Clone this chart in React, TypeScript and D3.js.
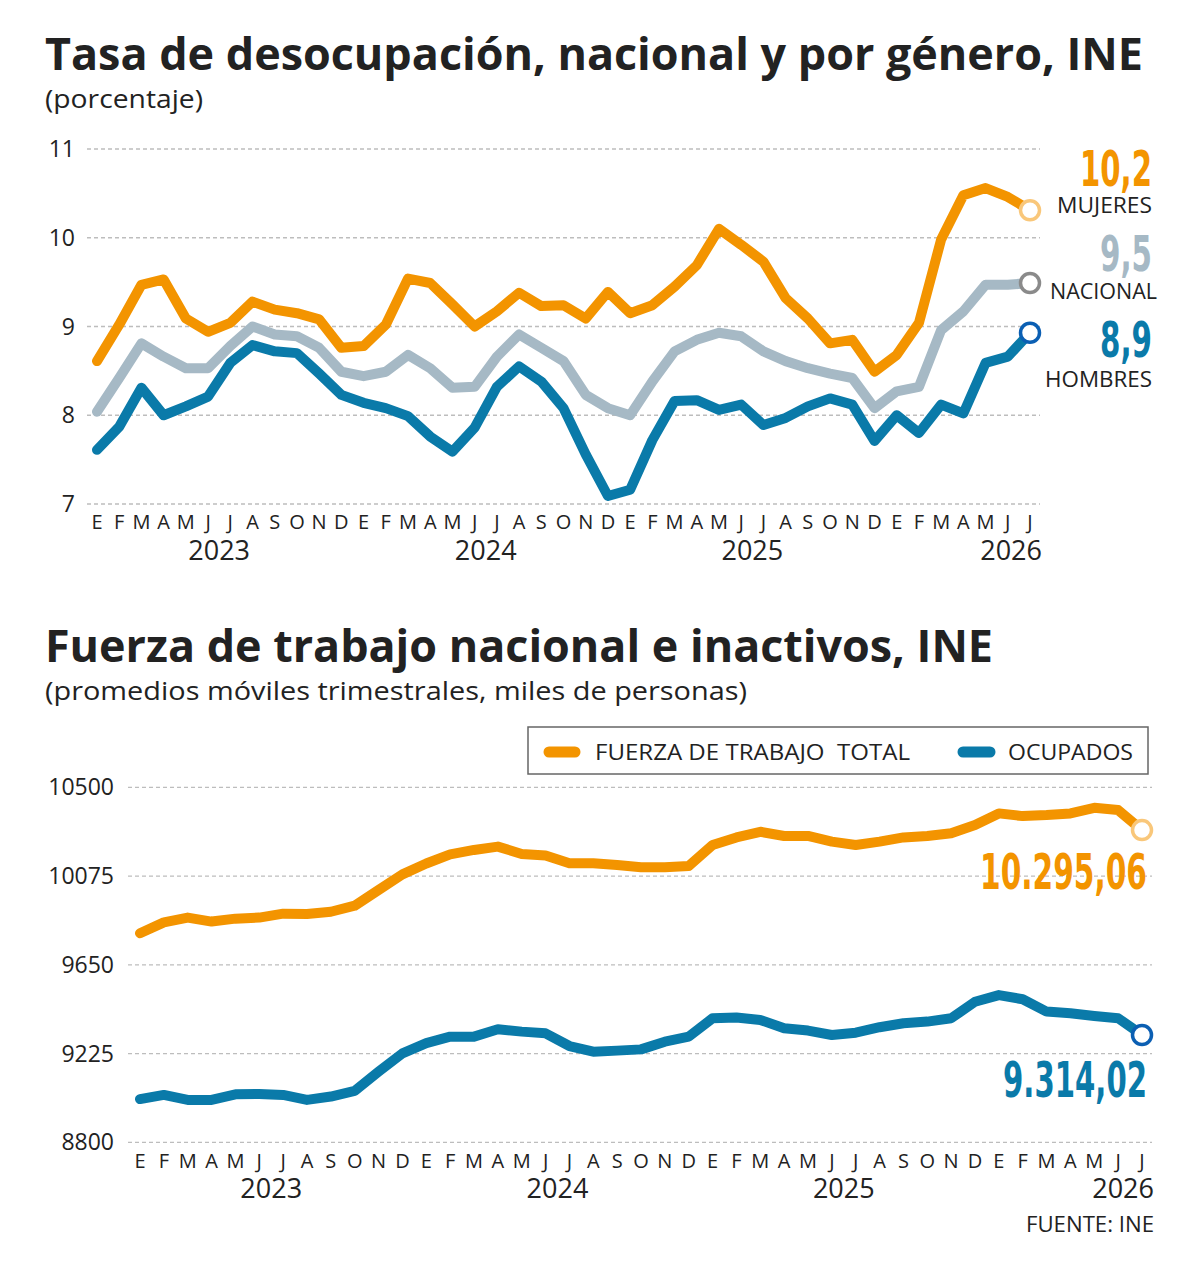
import * as d3 from 'd3';
import { useEffect } from 'react';

// month initials, Jan 2023 .. Jul 2026
const MONTHS = ['E', 'F', 'M', 'A', 'M', 'J', 'J', 'A', 'S', 'O', 'N', 'D'];
const monthLabels = d3.range(43).map(i => MONTHS[i % 12]);
const years = ['2023', '2024', '2025', '2026'];

// tasa de desocupación (%)
const mujeres = [8.61, 9.02, 9.47, 9.53, 9.09, 8.94, 9.04, 9.28, 9.19, 9.15, 9.08, 8.76,
  8.78, 9.02, 9.54, 9.49, 9.25, 9.0, 9.17, 9.38, 9.23, 9.24, 9.09, 9.39,
  9.15, 9.24, 9.45, 9.69, 10.1, 9.92, 9.73, 9.32, 9.09, 8.81, 8.85, 8.49,
  8.68, 9.04, 9.98, 10.48, 10.56, 10.46, 10.31];
const nacional = [8.04, 8.42, 8.81, 8.66, 8.53, 8.53, 8.78, 9.0, 8.91, 8.89, 8.76, 8.49,
  8.44, 8.49, 8.68, 8.53, 8.31, 8.32, 8.66, 8.91, 8.76, 8.61, 8.23, 8.08,
  8.0, 8.38, 8.72, 8.85, 8.93, 8.89, 8.72, 8.61, 8.53, 8.47, 8.42, 8.08,
  8.27, 8.32, 8.96, 9.17, 9.47, 9.47, 9.49];
const hombres = [7.61, 7.87, 8.31, 8.0, 8.1, 8.21, 8.59, 8.79, 8.72, 8.7, 8.47, 8.23,
  8.14, 8.08, 7.99, 7.76, 7.59, 7.86, 8.32, 8.55, 8.38, 8.08, 7.56, 7.09,
  7.16, 7.72, 8.16, 8.17, 8.06, 8.12, 7.89, 7.97, 8.1, 8.19, 8.12, 7.71,
  8.0, 7.8, 8.12, 8.02, 8.59, 8.66, 8.93];
const topTicks = [7, 8, 9, 10, 11];

// fuerza de trabajo (miles de personas)
const fuerza = [9801, 9853, 9876, 9857, 9871, 9876, 9895, 9893, 9904, 9933, 10008, 10083,
  10135, 10179, 10200, 10216, 10181, 10173, 10136, 10136, 10128, 10117, 10117, 10123,
  10224, 10260, 10287, 10267, 10267, 10240, 10224, 10240, 10260, 10267, 10280, 10319,
  10375, 10362, 10367, 10375, 10402, 10391, 10295.06];
const ocupados = [9007, 9027, 9003, 9003, 9030, 9031, 9027, 9003, 9019, 9046, 9138, 9226,
  9275, 9306, 9306, 9341, 9330, 9322, 9261, 9234, 9239, 9245, 9282, 9306,
  9394, 9398, 9386, 9346, 9335, 9314, 9325, 9351, 9370, 9378, 9394, 9473,
  9505, 9485, 9426, 9418, 9405, 9394, 9314.02];
const bottomTicks = [8800, 9225, 9650, 10075, 10500];

const ORANGE = '#f39400';
const BLUE = '#0a7aa9';
const GREY = '#a6b9c5';
const INK = '#222';
const FONT = "'Open Sans', sans-serif";
const NUMFONT = "'DejaVu Sans Condensed', 'DejaVu Sans', sans-serif";

const fmt = d3.format(',');

function Panel({ x, y, ticks, gridX, tickX, labelY, yearY, series }: any) {
  const line = d3.line<number>().x((_, i) => x(i)).y(d => y(d));
  const last = monthLabels.length - 1;
  return (
    <g>
      {ticks.map((t: number) => (
        <g key={t}>
          <line x1={gridX[0]} x2={gridX[1]} y1={y(t)} y2={y(t)} stroke="#bdbdbd" strokeWidth={1.3} strokeDasharray="4 3" />
          <text x={tickX} y={y(t) + 8} textAnchor="end" fontSize={23} fill={INK} fontFamily={FONT}>{String(t)}</text>
        </g>
      ))}
      {monthLabels.map((m, i) => (
        <text key={i} x={x(i)} y={labelY} textAnchor="middle" fontSize={20} fill={INK} fontFamily={FONT}>{m}</text>
      ))}
      {years.slice(0, 3).map((yr, k) => (
        <text key={yr} x={x(5.5 + 12 * k)} y={yearY} textAnchor="middle" fontSize={27} fill={INK} fontFamily={FONT}>{yr}</text>
      ))}
      <text x={x(last) + 12} y={yearY} textAnchor="end" fontSize={27} fill={INK} fontFamily={FONT}>{years[3]}</text>
      {series.map((s: any) => (
        <path key={s.name} d={line(s.values) || ''} fill="none" stroke={s.color} strokeWidth={10} strokeLinejoin="round" strokeLinecap="round" />
      ))}
      {series.map((s: any) => (
        <circle key={s.name + 'c'} cx={x(last)} cy={y(s.values[last])} r={9.5} fill="#fff" stroke={s.marker} strokeWidth={3.5} />
      ))}
    </g>
  );
}

export default function App() {
  useEffect(() => {
    document.body.style.margin = '0';
  }, []);

  const last = monthLabels.length - 1;
  const xTop = d3.scaleLinear().domain([0, last]).range([97, 1030]);
  const yTop = d3.scaleLinear().domain([7, 11]).range([504, 149]);
  const xBot = d3.scaleLinear().domain([0, last]).range([140, 1142]);
  const yBot = d3.scaleLinear().domain([8800, 10500]).range([1142.3, 787.3]);

  const topSeries = [
    { name: 'nacional', values: nacional, color: GREY, marker: '#8a8a8a' },
    { name: 'hombres', values: hombres, color: BLUE, marker: '#0b5fb3' },
    { name: 'mujeres', values: mujeres, color: ORANGE, marker: '#f9c77a' },
  ];
  const botSeries = [
    { name: 'fuerza', values: fuerza, color: ORANGE, marker: '#f9c77a' },
    { name: 'ocupados', values: ocupados, color: BLUE, marker: '#0b5fb3' },
  ];

  return (
    <svg width={1200} height={1267} style={{ display: 'block', background: '#fff' }}>
      <text x={45} y={70} fontSize={44} fontWeight={700} fill={INK} fontFamily={FONT} textLength={1098} lengthAdjust="spacingAndGlyphs">
        Tasa de desocupación, nacional y por género, INE
      </text>
      <text x={45} y={108} fontSize={26} fill={INK} fontFamily={FONT} textLength={158} lengthAdjust="spacingAndGlyphs">(porcentaje)</text>

      <Panel x={xTop} y={yTop} ticks={topTicks} gridX={[87, 1040]} tickX={75} labelY={529} yearY={560} series={topSeries} />

      <text x={1152} y={186} textAnchor="end" fontSize={50} fontWeight={700} fill={ORANGE} fontFamily={NUMFONT} textLength={72} lengthAdjust="spacingAndGlyphs">10,2</text>
      <text x={1152} y={213} textAnchor="end" fontSize={21} fill={INK} fontFamily={FONT} textLength={95} lengthAdjust="spacingAndGlyphs">MUJERES</text>
      <text x={1152} y={271} textAnchor="end" fontSize={50} fontWeight={700} fill={GREY} fontFamily={NUMFONT} textLength={52} lengthAdjust="spacingAndGlyphs">9,5</text>
      <text x={1157} y={299} textAnchor="end" fontSize={21} fill={INK} fontFamily={FONT} textLength={107} lengthAdjust="spacingAndGlyphs">NACIONAL</text>
      <text x={1152} y={357} textAnchor="end" fontSize={50} fontWeight={700} fill={BLUE} fontFamily={NUMFONT} textLength={52} lengthAdjust="spacingAndGlyphs">8,9</text>
      <text x={1152} y={387} textAnchor="end" fontSize={21} fill={INK} fontFamily={FONT} textLength={107} lengthAdjust="spacingAndGlyphs">HOMBRES</text>

      <text x={45} y={662} fontSize={44} fontWeight={700} fill={INK} fontFamily={FONT} textLength={948} lengthAdjust="spacingAndGlyphs">
        Fuerza de trabajo nacional e inactivos, INE
      </text>
      <text x={45} y={700} fontSize={26} fill={INK} fontFamily={FONT} textLength={702} lengthAdjust="spacingAndGlyphs">
        (promedios móviles trimestrales, miles de personas)
      </text>

      <rect x={528} y={727} width={620} height={47} fill="#fff" stroke="#666" strokeWidth={1.5} />
      <line x1={549} x2={575} y1={752} y2={752} stroke={ORANGE} strokeWidth={11} strokeLinecap="round" />
      <text x={595} y={760} fontSize={22} fill={INK} fontFamily={FONT} textLength={315} lengthAdjust="spacingAndGlyphs" style={{ whiteSpace: 'pre' }}>FUERZA DE TRABAJO  TOTAL</text>
      <line x1={963} x2={990} y1={752} y2={752} stroke={BLUE} strokeWidth={11} strokeLinecap="round" />
      <text x={1008} y={760} fontSize={22} fill={INK} fontFamily={FONT} textLength={125} lengthAdjust="spacingAndGlyphs">OCUPADOS</text>

      <Panel x={xBot} y={yBot} ticks={bottomTicks} gridX={[128, 1152]} tickX={114} labelY={1168} yearY={1198} series={botSeries} />

      <text x={1147} y={889} textAnchor="end" fontSize={50} fontWeight={700} fill={ORANGE} fontFamily={NUMFONT} textLength={167} lengthAdjust="spacingAndGlyphs">
        {fmt(10295).replace(',', '.') + ',06'}
      </text>
      <text x={1147} y={1097} textAnchor="end" fontSize={50} fontWeight={700} fill={BLUE} fontFamily={NUMFONT} textLength={144} lengthAdjust="spacingAndGlyphs">
        {fmt(9314).replace(',', '.') + ',02'}
      </text>

      <text x={1154} y={1232} textAnchor="end" fontSize={22} fill={INK} fontFamily={FONT} textLength={128} lengthAdjust="spacingAndGlyphs">FUENTE: INE</text>
    </svg>
  );
}
